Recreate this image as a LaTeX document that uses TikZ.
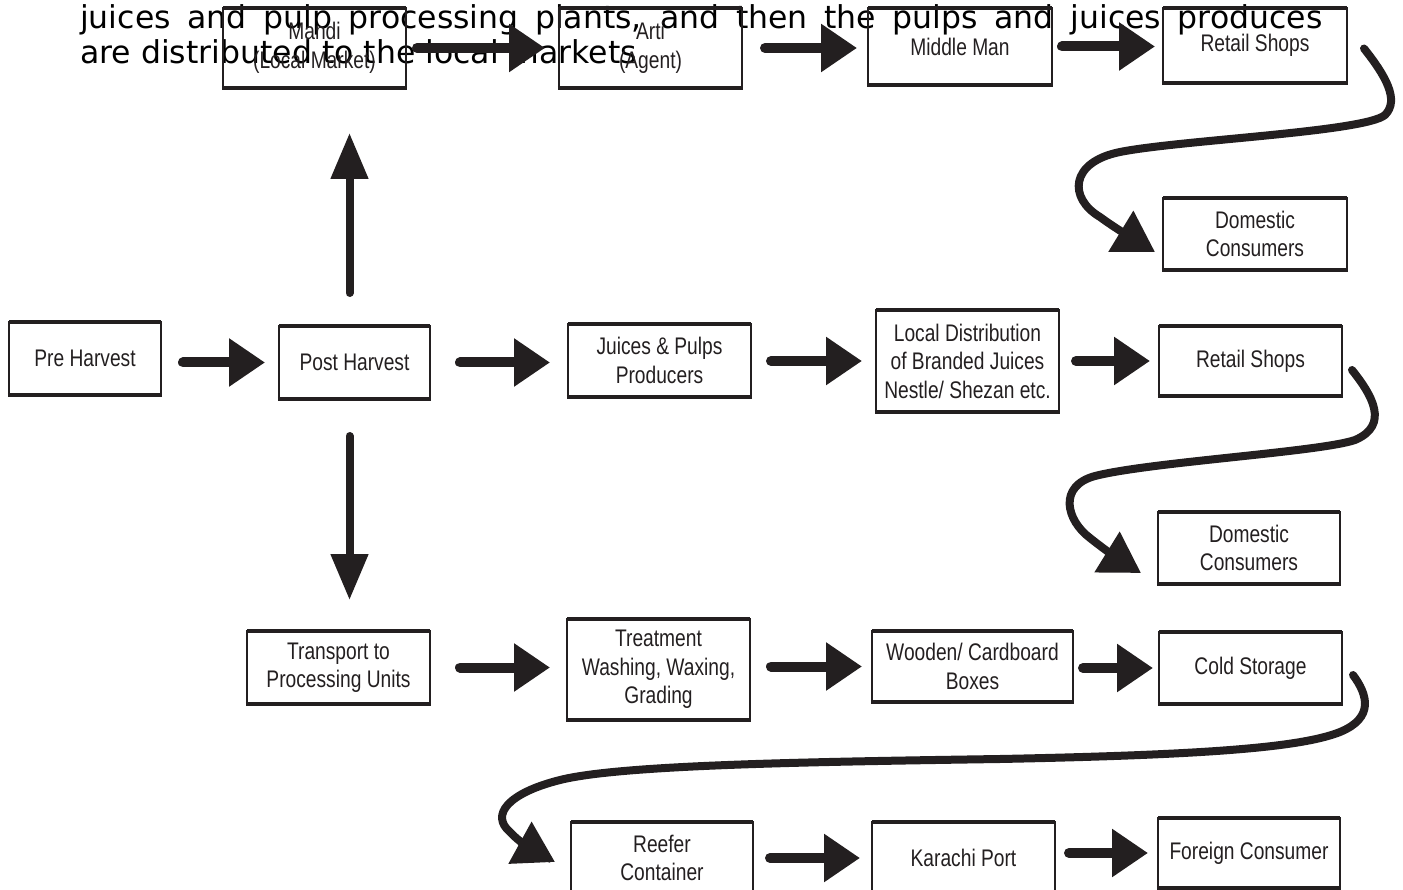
\documentclass[tikz,border=0pt]{standalone}
\usepackage{fontspec}
\usetikzlibrary{arrows.meta}
\newfontfamily\labelfont[FakeStretch=0.8]{Liberation Sans}
\newfontfamily\notefont{DejaVu Sans}
\definecolor{ink}{HTML}{231F20}
\begin{document}
\begin{tikzpicture}[x=1pt,y=-1pt,
  stage/.style={draw=ink, line width=2.2pt, align=center, inner sep=0pt, outer sep=0pt,
    text=ink, font=\labelfont\fontsize{24}{28.5}\selectfont},
  rim/.style={draw=ink, line width=3.8pt},
  flow/.style={draw=ink, line width=10pt, line cap=round, -{Triangle[length=36pt,width=46pt]}},
  flowv/.style={draw=ink, line width=8pt, line cap=round, -{Triangle[length=46pt,width=36pt]}},
  sweep/.style={draw=ink, line width=8pt, line cap=round, -{Triangle[length=40pt,width=46pt]}},
  note/.style={anchor=base west, inner sep=0pt, text=black, font=\notefont\fontsize{31.5}{36}\selectfont}]

\useasboundingbox (0,0) rectangle (1403,890);
\clip (0,0) rectangle (1403,890);

% overlapping caption text
\node[note] (noteA) at (80,29) {\makebox[1242pt][s]{juices and pulp processing plants, and then the pulps and juices produces}};
\node[note] (noteB) at (80,64) {are distributed to the local markets};

% top row: local market chain
\node[stage, minimum width=183pt, minimum height=80pt] (mandi) at (314.5,48) {Mandi\\(Local Market)};
\node[stage, minimum width=183pt, minimum height=80pt] (arti) at (650.5,48) {Arti\\(Agent)};
\node[stage, minimum width=184pt, minimum height=77pt] (middle) at (960,46.5) {Middle Man};
\node[stage, minimum width=184pt, minimum height=75pt] (retailA) at (1255,45.5) {Retail Shops};
\node[stage, minimum width=184pt, minimum height=72pt] (domA) at (1255,234) {Domestic\\Consumers};

% middle row: juice chain
\node[stage, minimum width=152pt, minimum height=73pt] (pre) at (85,358.5) {Pre Harvest};
\node[stage, minimum width=151pt, minimum height=73pt] (post) at (354.5,362.5) {Post Harvest};
\node[stage, minimum width=183pt, minimum height=73pt] (juices) at (659.5,360.5) {Juices \& Pulps\\Producers};
\node[stage, minimum width=183pt, minimum height=102pt] (local) at (967.5,361) {Local Distribution\\of Branded Juices\\Nestle/ Shezan etc.};
\node[stage, minimum width=183pt, minimum height=70pt] (retailB) at (1250.5,361) {Retail Shops};
\node[stage, minimum width=182pt, minimum height=72pt] (domB) at (1249,548) {Domestic\\Consumers};

% lower rows: export chain
\node[stage, minimum width=183pt, minimum height=73pt] (transport) at (338.5,667.5) {Transport to\\Processing Units};
\node[stage, minimum width=183pt, minimum height=101pt] (treat) at (658.5,669.5) {Treatment\\Washing, Waxing,\\Grading};
\node[stage, minimum width=201pt, minimum height=71pt] (boxes) at (972.5,666.5) {Wooden/ Cardboard\\Boxes};
\node[stage, minimum width=183pt, minimum height=72pt] (cold) at (1250.5,668) {Cold Storage};
\node[stage, minimum width=182pt, minimum height=72pt] (reefer) at (662,858) {Reefer\\Container};
\node[stage, minimum width=183pt, minimum height=72pt] (karachi) at (963.5,858) {Karachi Port};
\node[stage, minimum width=182pt, minimum height=70pt] (foreign) at (1249,853) {Foreign Consumer};

% heavier top and bottom edges of the boxes
\foreach \n in {mandi,arti,middle,retailA,domA,pre,post,juices,local,retailB,domB,
                transport,treat,boxes,cold,reefer,karachi,foreign}
  \draw[rim, shorten <=-1.1pt, shorten >=-1.1pt]
    (\n.north west) -- (\n.north east) (\n.south west) -- (\n.south east);

% straight connectors
\draw[flow, shorten <=11pt, shorten >=14pt] (mandi.east) -- (mandi.east -| arti.west);
\draw[flow, shorten <=23pt, shorten >=11pt] (arti.east) -- (arti.east -| middle.west);
\draw[flow, shorten <=10pt, shorten >=8pt] (middle.east) -- (middle.east -| retailA.west);

\draw[flow, shorten <=22pt, shorten >=14pt] (pre.east |- post.west) -- (post.west);
\draw[flow, shorten <=30pt, shorten >=18pt] (post.east) -- (post.east -| juices.west);
\draw[flow, shorten <=20pt, shorten >=14pt] (juices.east |- local.west) -- (local.west);
\draw[flow, shorten <=17pt, shorten >=9pt] (local.east) -- (local.east -| retailB.west);

\draw[flowv, shorten <=33pt, shorten >=45pt] ([xshift=-5pt]post.north) -- ([xshift=-5pt]post.north |- mandi.south);
\draw[flowv, shorten <=37pt, shorten >=31pt] ([xshift=-5pt]post.south) -- ([xshift=-5pt]post.south |- transport.north);

\draw[flow, shorten <=30pt, shorten >=17pt] (transport.east) -- (transport.east -| treat.west);
\draw[flow, shorten <=21pt, shorten >=10pt] (treat.east |- boxes.west) -- (boxes.west);
\draw[flow, shorten <=10pt, shorten >=6pt] (boxes.east |- cold.west) -- (cold.west);

\draw[flow, shorten <=17pt, shorten >=12pt] (reefer.east) -- (reefer.east -| karachi.west);
\draw[flow, shorten <=14pt, shorten >=10pt] (karachi.east |- foreign.west) -- (foreign.west);

% sweeping connectors down to the next line
\draw[sweep] ([shift={(17,3)}]retailA.east)
  .. controls (1385,75) and (1400,100) .. (1385,115)
  .. controls (1365,132) and (1180,140) .. (1120,152)
  .. controls (1070,162) and (1068,198) .. (1100,217)
  .. controls (1115,228) and (1132,238) .. ([shift={(-8,18)}]domA.west);

\draw[sweep] ([shift={(10,9)}]retailB.east)
  .. controls (1372,395) and (1390,425) .. (1355,440)
  .. controls (1320,452) and (1150,462) .. (1095,476)
  .. controls (1058,486) and (1066,520) .. (1090,538)
  .. controls (1105,550) and (1120,560) .. ([shift={(-17,25)}]domB.west);

\draw[sweep] ([shift={(11,7)}]cold.east)
  .. controls (1368,695) and (1374,718) .. (1340,732)
  .. controls (1300,748) and (1200,755) .. (1000,759)
  .. controls (800,762) and (620,765) .. (560,780)
  .. controls (508,793) and (490,815) .. (510,832)
  .. controls (520,843) and (535,851) .. ([shift={(-16,4)}]reefer.west);

\end{tikzpicture}
\end{document}
